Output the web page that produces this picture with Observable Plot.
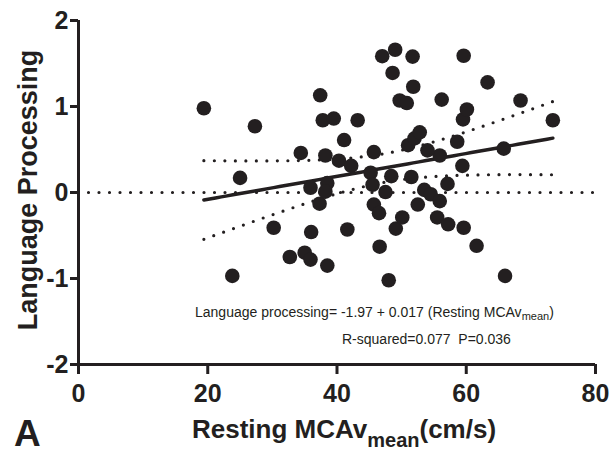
<!DOCTYPE html>
<html><head><meta charset="utf-8">
<script src="https://cdn.jsdelivr.net/npm/d3@7"></script>
<script src="https://cdn.jsdelivr.net/npm/@observablehq/plot@0.6"></script>
<style>html,body{margin:0;padding:0;background:#fff;}</style>
</head><body><div id="chart"></div>
<script>
// Resting MCAv mean (cm/s)
const mcav = [19.4,27.3,25.0,23.8,30.2,32.7,35.0,35.9,38.5,36.0,41.6,37.3,35.9,38.5,38.2,34.4,38.2,40.3,42.2,41.1,37.4,37.8,39.5,43.2,45.7,45.2,45.5,45.7,46.5,46.6,48.0,47.5,48.4,51.5,49.1,50.1,52.5,53.5,54.5,55.9,55.5,57.2,59.6,61.6,66.0,57.1,59.4,58.6,55.9,54.0,51.0,52.0,52.8,59.5,60.1,65.8,73.4,68.4,63.3,56.2,49.7,50.8,51.8,48.6,47.0,49.0,51.7,59.6];
// Language processing score
const language = [0.98,0.77,0.17,-0.97,-0.41,-0.75,-0.70,-0.78,-0.85,-0.46,-0.43,-0.13,0.055,0.11,0.01,0.46,0.43,0.37,0.31,0.61,1.13,0.84,0.86,0.84,0.47,0.23,0.09,-0.14,-0.24,-0.63,-1.02,0.005,0.19,0.18,-0.42,-0.29,-0.14,0.03,-0.02,-0.10,-0.29,-0.37,-0.41,-0.62,-0.97,0.10,0.31,0.59,0.43,0.49,0.55,0.63,0.70,0.85,0.965,0.51,0.84,1.07,1.28,1.08,1.07,1.04,1.23,1.39,1.585,1.66,1.58,1.59];
const xTicks = [0,20,40,60,80];
const yTicks = [-2,-1,0,1,2];
const equationText = ["Language processing= -1.97 + 0.017 (Resting MCAv", "mean", ")"];
const statsText = "R-squared=0.077  P=0.036";
const xTitle = ["Resting MCAv", "mean", "(cm/s)"];
const yTitle = "Language Processing";
const panelLabel = "A";

const ink = "#231f20";
const font = "'Liberation Sans', Arial, Helvetica, sans-serif";

const data = mcav.map((x, i) => ({x, y: language[i]}));

// least-squares fit with 95% confidence band of the mean
const n = mcav.length;
const mx = d3.mean(mcav), my = d3.mean(language);
const sxx = d3.sum(mcav, x => (x - mx) ** 2);
const sxy = d3.sum(mcav.map((x, i) => (x - mx) * (language[i] - my)));
const slope = sxy / sxx, intercept = my - slope * mx;
const sse = d3.sum(mcav.map((x, i) => (language[i] - intercept - slope * x) ** 2));
const se = Math.sqrt(sse / (n - 2));
const tcrit = 1.997;
const [x0, x1] = d3.extent(mcav);
const fit = d3.range(0, 61).map(k => {
  const x = x0 + (x1 - x0) * k / 60;
  const yhat = intercept + slope * x;
  const h = tcrit * se * Math.sqrt(1 / n + (x - mx) ** 2 / sxx);
  return {x, yhat, lo: yhat - h, hi: yhat + h};
});

const dotted = {stroke: ink, strokeWidth: 3.2, strokeDasharray: "0 10.5", strokeLinecap: "round"};

const plot = Plot.plot({
  width: 613, height: 456,
  marginLeft: 78, marginRight: 18, marginTop: 20, marginBottom: 92,
  x: {domain: [0, 80]},
  y: {domain: [-2, 2]},
  style: {fontFamily: font, color: ink, background: "#fff", overflow: "visible"},
  marks: [
    Plot.ruleY([0], dotted),
    Plot.line(fit, {x: "x", y: "hi", ...dotted}),
    Plot.line(fit, {x: "x", y: "lo", ...dotted}),
    Plot.line(fit, {x: "x", y: "yhat", stroke: ink, strokeWidth: 3.5}),
    Plot.dot(data, {x: "x", y: "y", r: 7.3, fill: ink, stroke: "none"}),
    Plot.axisX({ticks: xTicks, tickSize: 10, tickPadding: 10, fontSize: 25, fontWeight: "bold", strokeWidth: 3, label: null, tickFormat: d => String(d)}),
    Plot.axisY({ticks: yTicks, tickSize: 8, tickPadding: 2, fontSize: 25, fontWeight: "bold", strokeWidth: 3, label: null, tickFormat: d => String(d)}),
    Plot.ruleX([0], {stroke: ink, strokeWidth: 3}),
    Plot.ruleY([-2], {stroke: ink, strokeWidth: 3})
  ]
});

const svg = d3.select(plot);
// equation annotation
const eq = svg.append("text").attr("x", 195).attr("y", 317).attr("text-anchor", "start")
  .attr("font-family", font).attr("font-size", 14).attr("fill", ink);
eq.append("tspan").text(equationText[0]);
eq.append("tspan").attr("font-size", 11).attr("dy", 3).text(equationText[1]);
eq.append("tspan").attr("dy", -3).text(equationText[2]);
svg.append("text").attr("x", 342).attr("y", 344).attr("text-anchor", "start")
  .attr("font-family", font).attr("font-size", 14).attr("fill", ink).text(statsText);
// x title
const xt = svg.append("text").attr("x", 344).attr("y", 438).attr("text-anchor", "middle")
  .attr("font-family", font).attr("font-size", 26).attr("font-weight", "bold").attr("fill", ink);
xt.append("tspan").text(xTitle[0]);
xt.append("tspan").attr("font-size", 20).attr("dy", 9).text(xTitle[1]);
xt.append("tspan").attr("dy", -9).text(xTitle[2]);
// y title
svg.append("text").attr("transform", "translate(37,190) rotate(-90)").attr("text-anchor", "middle")
  .attr("font-family", font).attr("font-size", 27).attr("font-weight", "bold").attr("fill", ink).text(yTitle);
// panel label
svg.append("text").attr("x", 14).attr("y", 446).attr("text-anchor", "start")
  .attr("font-family", font).attr("font-size", 37).attr("font-weight", "bold").attr("fill", ink).text(panelLabel);

document.getElementById("chart").appendChild(plot);
</script>
</body></html>
